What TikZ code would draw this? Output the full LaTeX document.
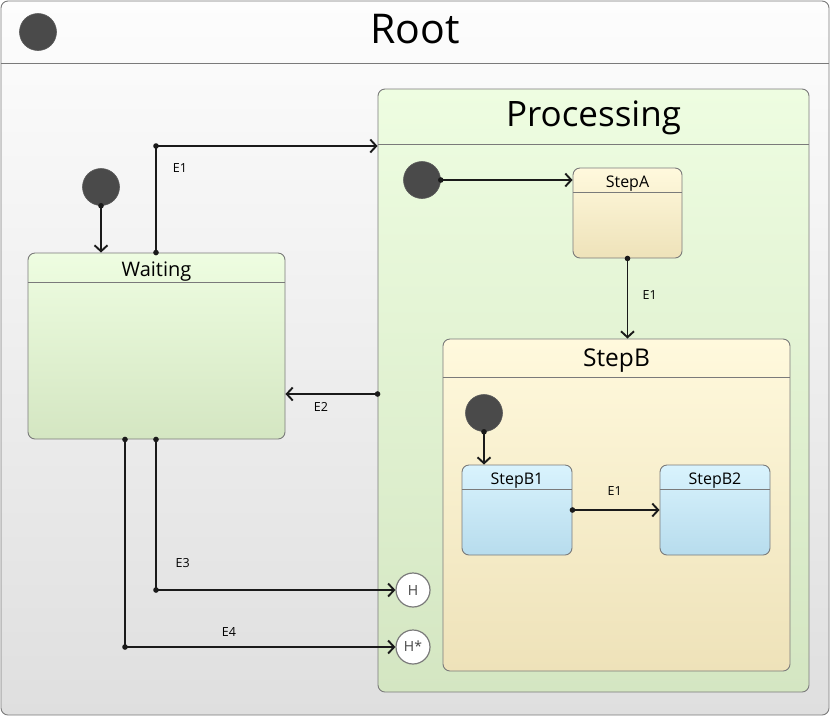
\documentclass[tikz,border=0pt]{standalone}
\usepackage{fontspec}
\setmainfont{Open Sans}
\usetikzlibrary{arrows.meta,calc}
\definecolor{bordergray}{HTML}{7A7A7A}
\definecolor{linecol}{HTML}{1A1A1A}
\definecolor{initfill}{HTML}{4A4A4A}
\definecolor{initdraw}{HTML}{5A5A5A}
\definecolor{rootTop}{HTML}{FDFDFD}
\definecolor{rootBot}{HTML}{DFDFDF}
\definecolor{greenTop}{HTML}{EEFDE1}
\definecolor{greenBot}{HTML}{D4E6C2}
\definecolor{yellowTop}{HTML}{FFF9DD}
\definecolor{yellowBot}{HTML}{EEE2B9}
\definecolor{blueTop}{HTML}{D9F3FD}
\definecolor{blueBot}{HTML}{B7DCED}
\definecolor{histtext}{HTML}{444444}
\begin{document}
\begin{tikzpicture}[x=1pt,y=-1pt,
  box/.style={draw=bordergray, line width=0.9pt, rounded corners=7pt, inner sep=0pt, shape=rectangle},
  hdr/.style={draw=bordergray, line width=0.9pt},
  tr/.style={draw=linecol, line width=1.9pt, arrows={-Straight Barb[length=6pt,width=13pt]}},
  initst/.style={circle, fill=initfill, draw=initdraw, line width=0.6pt, minimum size=37pt, inner sep=0pt},
  histstate/.style={circle, fill=white, draw=bordergray, line width=1.2pt, minimum size=34pt, inner sep=0pt},
  histtxt/.style={anchor=base, inner sep=0pt, text=histtext, font=\fontsize{14}{16}\selectfont},
  lbl/.style={anchor=base, font=\fontsize{12.5}{14}\selectfont, inner sep=0pt},
  ttl/.style={anchor=base, inner sep=0pt},
  dot/.style={fill=linecol}
]
\useasboundingbox (0,0) rectangle (830,716);

% Root
\node[box, top color=rootTop, bottom color=rootBot, minimum width=828pt, minimum height=714pt] (root) at (415,358) {};
\draw[hdr] ($(root.north west)+(0,63)$) -- ($(root.north east)+(0,63)$);
\node[ttl, font=\fontsize{41}{44}\selectfont] (roottitle) at (415,43) {Root};
\node[initst] (rinit) at (38,32) {};

% Processing
\node[box, top color=greenTop, bottom color=greenBot, minimum width=431pt, minimum height=603pt] (processing) at (593.5,390.5) {};
\draw[hdr] ($(processing.north west)+(0,56)$) -- ($(processing.north east)+(0,56)$);
\node[ttl, font=\fontsize{35}{38}\selectfont] (proctitle) at (593.5,126.5) {Processing};
\node[initst] (pinit) at (422,180) {};

% StepA
\node[box, top color=yellowTop, bottom color=yellowBot, minimum width=109pt, minimum height=90pt] (stepA) at (627.5,213) {};
\draw[hdr] ($(stepA.north west)+(0,25)$) -- ($(stepA.north east)+(0,25)$);
\node[ttl, font=\fontsize{16}{18}\selectfont] (stepAtitle) at (627.5,187.3) {StepA};

% StepB
\node[box, top color=yellowTop, bottom color=yellowBot, minimum width=347pt, minimum height=332pt] (stepB) at (616.5,505) {};
\draw[hdr] ($(stepB.north west)+(0,39)$) -- ($(stepB.north east)+(0,39)$);
\node[ttl, font=\fontsize{24.5}{28}\selectfont] (stepBtitle) at (616.5,366.7) {StepB};
\node[initst] (binit) at (484,413) {};

% StepB1, StepB2
\node[box, top color=blueTop, bottom color=blueBot, minimum width=110pt, minimum height=90pt] (stepB1) at (517,510) {};
\draw[hdr] ($(stepB1.north west)+(0,25)$) -- ($(stepB1.north east)+(0,25)$);
\node[ttl, font=\fontsize{16}{18}\selectfont] (stepB1title) at (517,484) {StepB1};
\node[box, top color=blueTop, bottom color=blueBot, minimum width=110pt, minimum height=90pt] (stepB2) at (715,510) {};
\draw[hdr] ($(stepB2.north west)+(0,25)$) -- ($(stepB2.north east)+(0,25)$);
\node[ttl, font=\fontsize{16}{18}\selectfont] (stepB2title) at (715,484) {StepB2};

% Waiting
\node[box, top color=greenTop, bottom color=greenBot, minimum width=257pt, minimum height=186pt] (waiting) at (156.5,346) {};
\draw[hdr] ($(waiting.north west)+(0,30)$) -- ($(waiting.north east)+(0,30)$);
\node[ttl, font=\fontsize{20}{22}\selectfont] (waitingtitle) at (156.5,276) {Waiting};
\node[initst] (winit) at (101,187) {};

% History states
\node[histstate] (hist) at (413,590) {};
\node[histtxt] (histlbl) at (413,595) {H};
\node[histstate] (deep) at (413,647) {};
\node[histtxt] (deeplbl) at (413,651.7) {H*};

% Transitions
\draw[tr] (winit.south) -- (winit.south |- waiting.north);
\fill[dot] (winit.south) circle (2.8pt);

\coordinate (c1) at (156,146);
\draw[tr] (c1 |- waiting.north) -- (c1) -- (c1 -| processing.west);
\fill[dot] (c1) circle (2.8pt);
\fill[dot] (c1 |- waiting.north) circle (2.8pt);
\node[lbl] (e1lbl) at (180,172.3) {E1};

\path (processing.west) ++(0,3.5) coordinate (e2s);
\draw[tr] (e2s) -- (e2s -| waiting.east);
\fill[dot] (e2s) circle (2.8pt);
\node[lbl] (e2lbl) at (321,411.7) {E2};

\coordinate (c3) at (156,590);
\draw[tr] (c3 |- waiting.south) -- (c3) -- (hist.west);
\fill[dot] (c3) circle (2.8pt);
\fill[dot] (c3 |- waiting.south) circle (2.8pt);
\node[lbl] (e3lbl) at (182.7,567.7) {E3};

\coordinate (c4) at (125,647);
\draw[tr] (c4 |- waiting.south) -- (c4) -- (deep.west);
\fill[dot] (c4) circle (2.8pt);
\fill[dot] (c4 |- waiting.south) circle (2.8pt);
\node[lbl] (e4lbl) at (229,636.7) {E4};

\draw[tr] (pinit.east) -- (pinit.east -| stepA.west);
\fill[dot] (pinit.east) circle (2.8pt);
\draw[tr] (stepA.south) -- (stepA.south |- stepB.north);
\fill[dot] (stepA.south) circle (2.8pt);
\node[lbl] (e1albl) at (649.7,299) {E1};

\draw[tr] (binit.south) -- (binit.south |- stepB1.north);
\fill[dot] (binit.south) circle (2.8pt);
\draw[tr] (stepB1.east) -- (stepB2.west);
\fill[dot] (stepB1.east) circle (2.8pt);
\node[lbl] (e1blbl) at (614.7,495.7) {E1};
\end{tikzpicture}
\end{document}
